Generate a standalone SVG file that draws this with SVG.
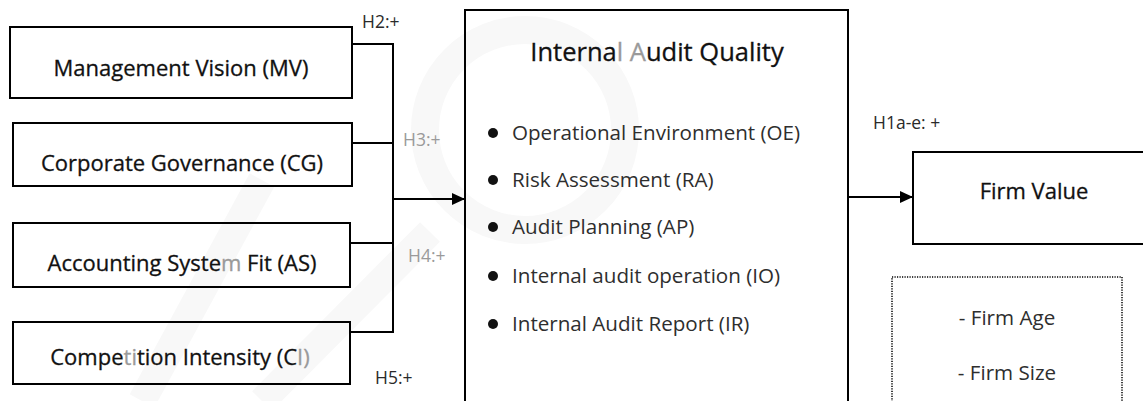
<svg xmlns="http://www.w3.org/2000/svg" width="1143" height="401" viewBox="0 0 1143 401">
  <style>
    text { font-family: "Open Sans", "Noto Sans", "Liberation Sans", sans-serif; }
    .box { fill: none; stroke: #000; stroke-width: 2; }
    .title { font-size: 22px; fill: #111; text-anchor: middle; font-weight: 500; stroke: #111; stroke-width: 0.3; }
    .heading { font-size: 25.5px; fill: #111; text-anchor: middle; font-weight: 500; stroke: #111; stroke-width: 0.3; }
    .item { font-size: 20.6px; fill: #2e2e2e; }
    .hyp { font-size: 17.5px; fill: #2a2a2a; }
    .faded { fill: #9a9a9a; }
    .title .faded, .heading .faded { stroke: #9a9a9a; }
    .wire { fill: none; stroke: #000; stroke-width: 2; }
    .mark { fill: none; stroke: #f8f8f8; stroke-width: 28; }
    .dot { fill: #111; }
  </style>
  <defs>
    <marker id="head" viewBox="0 0 13 12" refX="13" refY="6" markerWidth="13" markerHeight="12" orient="auto" markerUnits="userSpaceOnUse">
      <path d="M0,0 L13,6 L0,12 z" fill="#000"/>
    </marker>
  </defs>

  <rect width="1143" height="401" fill="#fff"/>

  <!-- faint background emblem -->
  <g id="emblem">
    <circle class="mark" cx="525" cy="130" r="100"/>
    <path class="mark" d="M430,232 L262,401"/>
    <path class="mark" d="M262,180 L142,401"/>
  </g>

  <!-- antecedents -->
  <g id="mv">
    <rect class="box" x="10" y="27" width="342" height="71"/>
    <text class="title" x="181" y="76">Management Vision (MV)</text>
  </g>
  <g id="cg">
    <rect class="box" x="13" y="123" width="339" height="63"/>
    <text class="title" x="182" y="171">Corporate Governance (CG)</text>
  </g>
  <g id="as">
    <rect class="box" x="13" y="223" width="337" height="64"/>
    <text class="title" x="182" y="271">Accounting Syste<tspan class="faded">m</tspan> Fit (AS)</text>
  </g>
  <g id="ci">
    <rect class="box" x="13" y="322" width="337" height="62"/>
    <text class="title" x="180" y="365">Compe<tspan class="faded">ti</tspan>tion Intensity (C<tspan class="faded">I)</tspan></text>
  </g>

  <!-- internal audit quality -->
  <g id="iaq">
    <rect class="box" x="465" y="10" width="383" height="400"/>
    <text class="heading" x="657" y="61">Interna<tspan class="faded">l A</tspan>udit Quality</text>
    <circle class="dot" cx="493" cy="133" r="5"/>
    <text class="item" x="512" y="140">Operational Environment (OE)</text>
    <circle class="dot" cx="493" cy="180" r="5"/>
    <text class="item" x="512" y="187">Risk Assessment (RA)</text>
    <circle class="dot" cx="493" cy="227" r="5"/>
    <text class="item" x="512" y="234">Audit Planning (AP)</text>
    <circle class="dot" cx="493" cy="276" r="5"/>
    <text class="item" x="512" y="283">Internal audit operation (IO)</text>
    <circle class="dot" cx="493" cy="324" r="5"/>
    <text class="item" x="512" y="331">Internal Audit Report (IR)</text>
  </g>

  <!-- outcome -->
  <g id="fv">
    <rect class="box" x="913" y="152" width="240" height="92"/>
    <text class="title" x="1034" y="199">Firm Value</text>
  </g>

  <!-- controls -->
  <g id="controls">
    <rect x="892" y="277" width="230" height="140" fill="none" stroke="#000" stroke-width="1.5" stroke-dasharray="1.2 1.3"/>
    <text class="item" x="1007" y="325" text-anchor="middle">- Firm Age</text>
    <text class="item" x="1007" y="380" text-anchor="middle">- Firm Size</text>
  </g>

  <!-- connectors -->
  <g id="connectors">
    <path class="wire" d="M352,44 H393 V332 H350"/>
    <path class="wire" d="M352,143 H393"/>
    <path class="wire" d="M350,243 H393"/>
    <path class="wire" d="M394,199 H465" marker-end="url(#head)"/>
    <path class="wire" d="M849,197 H913" marker-end="url(#head)"/>
  </g>

  <!-- hypothesis labels -->
  <g id="labels">
    <text class="hyp" x="362" y="28">H2:+</text>
    <text class="hyp faded" x="403" y="146">H3:+</text>
    <text class="hyp faded" x="408" y="262">H4:+</text>
    <text class="hyp" x="375" y="384">H5:+</text>
    <text class="hyp" x="873" y="129">H1a-e: +</text>
  </g>
</svg>
